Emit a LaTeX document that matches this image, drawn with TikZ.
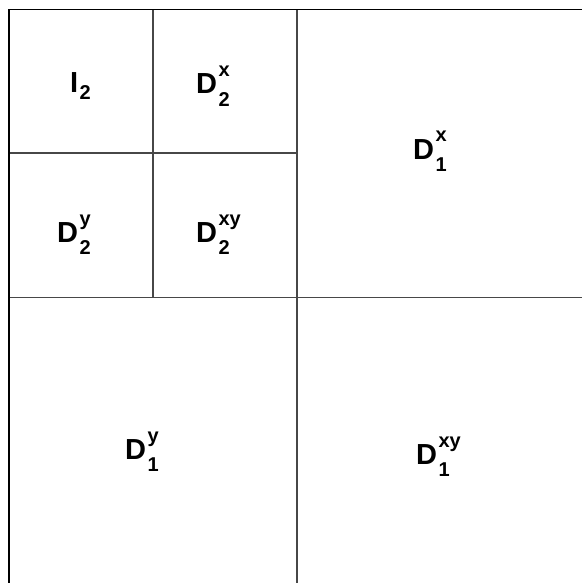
\documentclass[tikz,border=0pt]{standalone}
\usepackage{fontspec}
\setmainfont{Liberation Sans}
\newcommand\mylab[3]{#1\kern0.05em{\fontsize{20}{21}\selectfont\setbox0\hbox{#2}\setbox2\hbox{#3}\dimen0=\ifdim\wd0>\wd2 \wd0\else\wd2\fi\rlap{\raise0.85em\copy0}\rlap{\lower0.62em\copy2}\hskip\dimen0}}
\begin{document}
\begin{tikzpicture}[x=1pt,y=-1pt,
  outer/.style={draw=black,line width=1.5pt},
  inner/.style={draw=black!72,line width=1.3pt},
  lab/.style={anchor=base west,inner sep=0pt,font=\fontsize{29}{31}\selectfont\bfseries}]
\useasboundingbox (0,0) rectangle (581,583);
\fill[white] (0,0) rectangle (581,583);
\coordinate (tl) at (9,9.5);
\coordinate (br) at (588,588);
\draw[inner] (297,9.5) -- (297,588);
\draw[inner] (9,297.5) -- (588,297.5);
\draw[inner] (153,9.5) -- (153,297.5);
\draw[inner] (9,153) -- (297,153);
\draw[outer] (tl) rectangle (br);
\node[lab] (i2) at (70,93) {I\kern0.05em{\fontsize{20}{21}\selectfont\lower0.3em\hbox{2}}};
\node[lab] (d2x) at (196,94) {\mylab{D}{x}{2}};
\node[lab] (d2y) at (57,242) {\mylab{D}{y}{2}};
\node[lab] (d2xy) at (196,242) {\mylab{D}{xy}{2}};
\node[lab] (d1x) at (413,159) {\mylab{D}{x}{1}};
\node[lab] (d1y) at (125,459) {\mylab{D}{y}{1}};
\node[lab] (d1xy) at (416,464) {\mylab{D}{xy}{1}};
\end{tikzpicture}
\end{document}
